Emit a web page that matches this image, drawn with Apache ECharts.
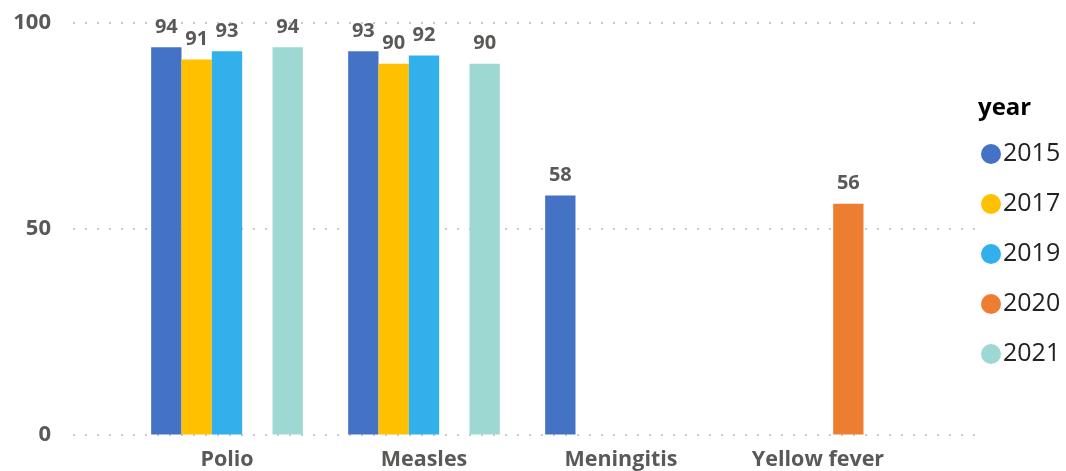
<!DOCTYPE html>
<html>
<head>
<meta charset="utf-8">
<script src="https://cdn.jsdelivr.net/npm/echarts@6/dist/echarts.min.js"></script>
<style>
html,body{margin:0;padding:0;background:#fff;}
#c{width:1066px;height:471px;}
</style>
</head>
<body>
<div id="c"></div>
<script>
var categories = ['Polio', 'Measles', 'Meningitis', 'Yellow fever'];
var years = ['2015', '2017', '2019', '2020', '2021'];
var v2015 = [94, 93, 58, null];
var v2017 = [91, 90, null, null];
var v2019 = [93, 92, null, null];
var v2020 = [null, null, null, 56];
var v2021 = [94, 90, null, null];
var yTicks = [0, 50, 100];

var colors = ['#4472C4', '#FFC000', '#31B0EC', '#ED7D31', '#9ED8D3'];
var seriesValues = [v2015, v2017, v2019, v2020, v2021];
var FONT = '"Open Sans", "Noto Sans", sans-serif';
var GRAY = '#5B5957';

var chart = echarts.init(document.getElementById('c'), null, {renderer: 'canvas'});

var series = years.map(function (y, i) {
  return {
    name: y,
    type: 'bar',
    xAxisIndex: 1,
    yAxisIndex: 1,
    data: seriesValues[i],
    barGap: '0%',
    barCategoryGap: '23%',
    itemStyle: {color: colors[i]},
    label: {
      show: true,
      position: 'top',
      distance: 10,
      color: GRAY,
      fontFamily: FONT,
      fontWeight: 'bold',
      fontSize: 20
    },
    emphasis: {disabled: true}
  };
});

chart.setOption({
  animation: false,
  color: colors,
  title: {
    text: 'year',
    left: 978,
    top: 96,
    padding: 0,
    textStyle: {fontFamily: FONT, fontWeight: 'bold', fontSize: 24, color: '#000'}
  },
  legend: {
    orient: 'vertical',
    left: 981,
    top: 141,
    padding: 0,
    icon: 'circle',
    itemWidth: 20,
    itemHeight: 20,
    itemGap: 24,
    textStyle: {fontFamily: FONT, fontSize: 25, color: '#222', lineHeight: 26, padding: [0, 0, 0, -3]},
    data: years
  },
  grid: [
    {left: 73, right: 91, top: 22.5, bottom: 36.5},
    {left: 128.5, right: 149.5, top: 22.5, bottom: 36.5}
  ],
  xAxis: [
    {gridIndex: 0, type: 'value', min: 0, max: 1, show: false},
    {
      gridIndex: 1,
      type: 'category',
      data: categories,
      axisLine: {show: false},
      axisTick: {show: false},
      axisLabel: {
        margin: 14,
        color: GRAY,
        fontFamily: FONT,
        fontWeight: 'bold',
        fontSize: 21.5,
        interval: 0
      }
    }
  ],
  yAxis: [
    {
      gridIndex: 0,
      type: 'value',
      min: yTicks[0],
      max: yTicks[yTicks.length - 1],
      interval: yTicks[1] - yTicks[0],
      axisLine: {show: false},
      axisTick: {show: false},
      axisLabel: {
        margin: 22,
        color: GRAY,
        fontFamily: FONT,
        fontWeight: 'bold',
        fontSize: 22
      },
      splitLine: {
        show: true,
        lineStyle: {color: '#C8C8C8', width: 2, type: [2, 10]}
      }
    },
    {
      gridIndex: 1,
      type: 'value',
      min: yTicks[0],
      max: yTicks[yTicks.length - 1],
      interval: yTicks[1] - yTicks[0],
      show: false,
      splitLine: {show: false}
    }
  ],
  series: series
});
</script>
</body>
</html>
